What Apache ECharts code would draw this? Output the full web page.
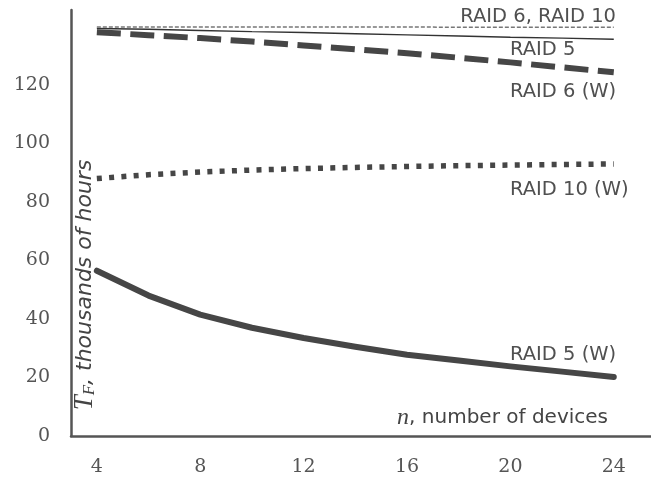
<!DOCTYPE html>
<html>
<head>
<meta charset="utf-8">
<script src="https://cdn.jsdelivr.net/npm/echarts@6/dist/echarts.min.js"></script>
<style>
html,body{margin:0;padding:0;background:#fff;}
#chart{width:651px;height:477px;}
</style>
</head>
<body>
<div id="chart"></div>
<script>
const nValues = [4, 6, 8, 10, 12, 14, 16, 18, 20, 22, 24];
const raid6raid10 = [139.8, 139.8, 139.8, 139.8, 139.8, 139.8, 139.8, 139.7, 139.7, 139.7, 139.7];
const raid5 = [139.3, 139.0, 138.6, 138.2, 137.9, 137.5, 137.1, 136.7, 136.3, 136.0, 135.6];
const raid6W = [138.0, 137.0, 136.0, 134.8, 133.5, 132.2, 130.8, 129.3, 127.7, 126.0, 124.3];
const raid10W = [88.0, 89.3, 90.2, 90.9, 91.4, 91.8, 92.1, 92.4, 92.6, 92.8, 93.0];
const raid5W = [56.5, 48.0, 41.5, 37.0, 33.5, 30.5, 27.8, 25.8, 23.8, 22.0, 20.2];
const xTickLabels = [4, 8, 12, 16, 20, 24];
const yTickLabels = [0, 20, 40, 60, 80, 100, 120];

const seriesLabels = ['RAID 6, RAID 10', 'RAID 5', 'RAID 6 (W)', 'RAID 10 (W)', 'RAID 5 (W)'];

function pairs(ys) { return nValues.map((n, i) => [n, ys[i]]); }

const chart = echarts.init(document.getElementById('chart'), null, {renderer: 'canvas'});
const axisColor = '#555';
const lineColor = '#464646';
const labelFont = { fontFamily: 'DejaVu Sans', fontSize: 19.5, fill: '#505050' };

const option = {
  animation: false,
  backgroundColor: '#fff',
  grid: { left: 71, right: 0, top: 10, bottom: 41, containLabel: false },
  xAxis: {
    type: 'value', min: 3, max: 25.44, interval: 1,
    axisLine: { show: true, lineStyle: { color: axisColor, width: 2.5 } },
    axisTick: { show: false },
    splitLine: { show: false },
    axisLabel: {
      showMaxLabel: false, showMinLabel: false,
      margin: 22, color: '#555', fontFamily: 'DejaVu Serif', fontSize: 19,
      formatter: v => xTickLabels.indexOf(v) >= 0 ? String(v) : ''
    }
  },
  yAxis: {
    type: 'value', min: 0, max: 145.6, interval: 10,
    axisLine: { show: true, lineStyle: { color: axisColor, width: 2.5 } },
    axisTick: { show: false },
    splitLine: { show: false },
    axisLabel: {
      showMaxLabel: false,
      margin: 21, color: '#555', fontFamily: 'DejaVu Serif', fontSize: 19,
      formatter: v => yTickLabels.indexOf(v) >= 0 ? String(v) : ''
    }
  },
  series: [
    { name: seriesLabels[0], type: 'line', data: pairs(raid6raid10), symbol: 'none', z: 5,
      lineStyle: { color: '#777', width: 1.5, type: [4, 2] } },
    { name: seriesLabels[1], type: 'line', data: pairs(raid5), symbol: 'none', z: 4,
      lineStyle: { color: '#333', width: 1.4 } },
    { name: seriesLabels[2], type: 'line', data: pairs(raid6W), symbol: 'none',
      lineStyle: { color: lineColor, width: 6, type: [24, 9.5], cap: 'butt' } },
    { name: seriesLabels[3], type: 'line', data: pairs(raid10W), symbol: 'none',
      lineStyle: { color: lineColor, width: 5.5, type: [5, 7.3], cap: 'butt' } },
    { name: seriesLabels[4], type: 'line', data: pairs(raid5W), symbol: 'none',
      lineStyle: { color: lineColor, width: 6, cap: 'round', join: 'round' } }
  ],
  graphic: [
    { type: 'text', x: 616, y: 17, style: Object.assign({ text: seriesLabels[0], align: 'right', verticalAlign: 'middle' }, labelFont) },
    { type: 'text', x: 510, y: 50, style: Object.assign({ text: seriesLabels[1], align: 'left', verticalAlign: 'middle' }, labelFont) },
    { type: 'text', x: 510, y: 92, style: Object.assign({ text: seriesLabels[2], align: 'left', verticalAlign: 'middle' }, labelFont) },
    { type: 'text', x: 510, y: 190, style: Object.assign({ text: seriesLabels[3], align: 'left', verticalAlign: 'middle' }, labelFont) },
    { type: 'text', x: 510, y: 355, style: Object.assign({ text: seriesLabels[4], align: 'left', verticalAlign: 'middle' }, labelFont) },
    { type: 'text', x: 608, y: 418, style: {
        text: '{n|n}{t|, number of devices}', align: 'right', verticalAlign: 'middle',
        rich: {
          n: { fontFamily: 'Liberation Serif', fontStyle: 'italic', fontSize: 24, fill: '#444' },
          t: { fontFamily: 'DejaVu Sans', fontSize: 20, fill: '#444' }
        }
    } },
    { type: 'text', x: 85, y: 285, rotation: Math.PI / 2, style: {
        text: '{T|T}{F|F}{t|, thousands of hours}', align: 'center', verticalAlign: 'middle',
        rich: {
          T: { fontFamily: 'Liberation Serif', fontStyle: 'italic', fontSize: 27, fill: '#444' },
          F: { fontFamily: 'Liberation Serif', fontStyle: 'italic', fontSize: 17, fill: '#444', padding: [10, 0, 0, 0] },
          t: { fontFamily: 'DejaVu Sans', fontStyle: 'italic', fontSize: 22, fill: '#444' }
        }
    } }
  ]
};
chart.setOption(option);
</script>
</body>
</html>
